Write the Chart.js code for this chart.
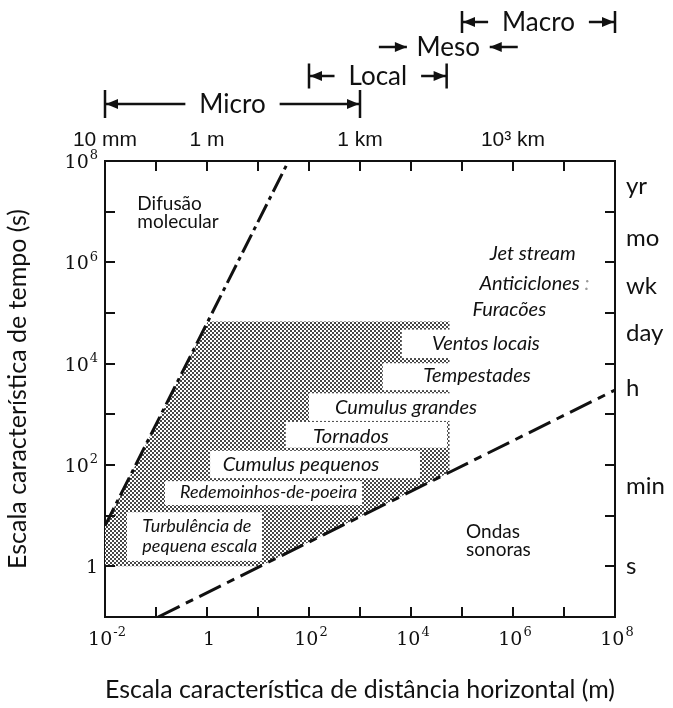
<!DOCTYPE html>
<html>
<head>
<meta charset="utf-8">
<script src="https://cdn.jsdelivr.net/npm/chart.js@4.4.1/dist/chart.umd.min.js"></script>
<style>
  html, body { margin: 0; padding: 0; background: #fff; }
  canvas { display: block; }
</style>
</head>
<body>
<canvas id="c" width="673" height="708"></canvas>
<script>
// ---- Axis ticks ----
const distanceTicks = [1e-2, 1, 1e2, 1e4, 1e6, 1e8];
const distanceUnitTicks = [1e-2, 1, 1e3, 1e6];
const distanceUnitLabels = ['10 mm', '1 m', '1 km', '10³ km'];
const timeTicks = [1, 1e2, 1e4, 1e6, 1e8];
const timeUnitTicks = [3.2e7, 3.0e6, 3.3e5, 3.9e4, 3.2e3, 38, 1];
const timeUnitLabels = ['yr', 'mo', 'wk', 'day', 'h', 'min', 's'];

// ---- Boundary lines (distance in m, time in s) ----
const diffusionLine = [{x: 0.01, y: 6.3}, {x: 39.8, y: 1e8}];
const soundLine = [{x: 0.11, y: 0.1}, {x: 1e8, y: 3020}];

// ---- Region of atmospheric motions ----
const motionRegion = [
  {x: 0.01, y: 1}, {x: 0.01, y: 6.3}, {x: 1.04, y: 6.8e4},
  {x: 5.7e4, y: 6.8e4}, {x: 5.7e4, y: 72}, {x: 11, y: 1}, {x: 0.01, y: 1}
];

// ---- Phenomena inside the region (extent of each cleared box, label anchor) ----
const phenomenaNames = ['Ventos locais', 'Tempestades', 'Cumulus grandes', 'Tornados',
  'Cumulus pequenos', 'Redemoinhos-de-poeira', 'Turbulência de\npequena escala'];
const boxFromX = [6.6e3, 2.8e3, 100, 35, 1.15, 0.15, 0.027];
const boxToX = [1e5, 1e5, 2.45e5, 5.1e4, 1.5e4, 1.1e3, 12];
const boxFromY = [1.29e4, 3.0e3, 741, 219, 55, 16.2, 1.28];
const boxToY = [4.7e4, 1.02e4, 2.6e3, 708, 190, 48, 11.7];
const labelX = [2.57e4, 1.74e4, 324, 120, 2.04, 0.295, 0.054];
const labelY = [2.45e4, 5.75e3, 1.35e3, 372, 100, 29.5, 6.3];

// ---- Large-scale phenomena ----
const largeScaleNames = ['Jet stream', 'Anticiclones', 'Furacões'];
const largeScaleX = [3.5e5, 2.2e5, 1.6e5];
const largeScaleY = [1.5e6, 3.9e5, 1.15e5];

// ---- Regimes outside the region ----
const regimeNames = ['Difusão\nmolecular', 'Ondas\nsonoras'];
const regimeX = [0.043, 1.2e5];
const regimeY = [1.4e7, 4.8];

// ---- Scale classes along the distance axis ----
const scaleClassNames = ['Micro', 'Local', 'Meso', 'Macro'];
const scaleClassFrom = [1e-2, 1e2, 8.3e3, 1e5];
const scaleClassTo = [1e3, 5e4, 3.5e5, 1e8];

// Stipple used for the region of motions
function makeStipple() {
  const pc = document.createElement('canvas');
  pc.width = 4; pc.height = 4;
  const p = pc.getContext('2d');
  p.fillStyle = '#ffffff';
  p.fillRect(0, 0, 4, 4);
  p.fillStyle = '#474747';
  p.fillRect(0, 0, 2, 2);
  p.fillRect(2, 2, 2, 2);
  return p.createPattern(pc, 'repeat');
}
const stipple = makeStipple();

const INK = '#111';
const REGION_INDEX = 2;
// long labels set a little smaller so they fit their boxes
const compactLabels = new Set(['Redemoinhos-de-poeira', 'Turbulência de\npequena escala']);
const POWER_BASE_FONT = '19px "DejaVu Serif", serif';
const POWER_EXP_FONT = '13px "DejaVu Serif", serif';

function setTicks(values) {
  return scale => { scale.ticks = values.map(v => ({value: v})); };
}

// Power-of-ten label: "1" or "10" with a raised exponent
function drawPower(ctx, value, px, py, align) {
  const exp = Math.round(Math.log10(value));
  const base = exp === 0 ? '1' : '10';
  const sup = exp === 0 ? '' : String(exp);
  ctx.font = POWER_BASE_FONT;
  const wb = ctx.measureText(base).width;
  ctx.font = POWER_EXP_FONT;
  const ws = sup ? ctx.measureText(sup).width + 1 : 0;
  const total = wb + ws;
  const start = align === 'right' ? px - total : px - total / 2;
  ctx.textAlign = 'left';
  ctx.textBaseline = 'middle';
  ctx.font = POWER_BASE_FONT;
  ctx.fillText(base, start, py);
  if (sup) {
    ctx.font = POWER_EXP_FONT;
    ctx.fillText(sup, start + wb + 1, py - 7);
  }
}

// White boxes that clear the stipple behind each label
const clearBoxes = {
  id: 'clearBoxes',
  afterDatasetDraw(chart, args) {
    if (args.index !== REGION_INDEX) return;
    const {ctx, chartArea, scales: {x, y}} = chart;
    ctx.save();
    ctx.beginPath();
    ctx.rect(chartArea.left, chartArea.top, chartArea.right - chartArea.left, chartArea.bottom - chartArea.top);
    ctx.clip();
    ctx.fillStyle = '#ffffff';
    for (let i = 0; i < phenomenaNames.length; i++) {
      const x0 = x.getPixelForValue(boxFromX[i]);
      const x1 = x.getPixelForValue(boxToX[i]);
      const y0 = y.getPixelForValue(boxToY[i]);
      const y1 = y.getPixelForValue(boxFromY[i]);
      ctx.fillRect(x0, y0, x1 - x0, y1 - y0);
    }
    ctx.restore();
  }
};

function arrowHead(ctx, tipX, y, dir) {
  const len = 12, half = 5;
  ctx.beginPath();
  ctx.moveTo(tipX, y);
  ctx.lineTo(tipX - dir * len, y - half);
  ctx.lineTo(tipX - dir * len, y + half);
  ctx.closePath();
  ctx.fill();
}

function drawMultiline(ctx, text, px, py, lineH) {
  text.split('\n').forEach((t, k) => ctx.fillText(t, px, py + k * lineH));
}

// Inner tick marks, power-of-ten labels, scale classes and text annotations
const decorations = {
  id: 'decorations',
  afterDraw(chart) {
    const {ctx, chartArea: a, scales: {x, y}} = chart;
    ctx.save();
    ctx.strokeStyle = INK;
    ctx.fillStyle = INK;
    ctx.lineWidth = 2;

    // inward decade ticks on all four sides
    const tl = 10;
    ctx.beginPath();
    for (let k = -1; k <= 7; k++) {
      const px = Math.round(x.getPixelForValue(Math.pow(10, k)));
      ctx.moveTo(px, a.bottom); ctx.lineTo(px, a.bottom - tl);
      ctx.moveTo(px, a.top); ctx.lineTo(px, a.top + tl);
    }
    for (let k = 0; k <= 7; k++) {
      const py = Math.round(y.getPixelForValue(Math.pow(10, k)));
      ctx.moveTo(a.left, py); ctx.lineTo(a.left + tl, py);
      ctx.moveTo(a.right, py); ctx.lineTo(a.right - tl, py);
    }
    ctx.stroke();

    // power-of-ten tick labels of the distance and time axes
    x.ticks.forEach(t => drawPower(ctx, t.value, x.getPixelForValue(t.value) + 2, a.bottom + 23, 'center'));
    y.ticks.forEach(t => drawPower(ctx, t.value, a.left - 7, y.getPixelForValue(t.value) + 2, 'right'));

    // scale classes above the chart
    const rowY = [104, 76, 47, 22];
    const barH = [28, 25, 0, 22];
    ctx.font = '26px Lato';
    ctx.textAlign = 'center';
    ctx.textBaseline = 'middle';
    ctx.lineWidth = 2.5;
    for (let i = 0; i < scaleClassNames.length; i++) {
      const x0 = x.getPixelForValue(scaleClassFrom[i]);
      const x1 = x.getPixelForValue(scaleClassTo[i]);
      const cy = rowY[i];
      const cx = (x0 + x1) / 2;
      const name = scaleClassNames[i];
      const tw = ctx.measureText(name).width;
      ctx.fillText(name, cx, cy + 1);
      if (barH[i] > 0) {
        const gap = 14;
        const reach = name === 'Micro' ? 1000 : 28;
        ctx.beginPath();
        ctx.moveTo(x0, cy - barH[i] / 2); ctx.lineTo(x0, cy + barH[i] / 2);
        ctx.moveTo(x1, cy - barH[i] / 2); ctx.lineTo(x1, cy + barH[i] / 2);
        ctx.moveTo(x0, cy); ctx.lineTo(Math.min(cx - tw / 2 - gap, x0 + reach), cy);
        ctx.moveTo(Math.max(cx + tw / 2 + gap, x1 - reach), cy); ctx.lineTo(x1, cy);
        ctx.stroke();
        arrowHead(ctx, x0 + 1, cy, -1);
        arrowHead(ctx, x1 - 1, cy, 1);
      } else {
        const len = 28;
        ctx.beginPath();
        ctx.moveTo(x0 - len, cy); ctx.lineTo(x0, cy);
        ctx.moveTo(x1 + len, cy); ctx.lineTo(x1, cy);
        ctx.stroke();
        arrowHead(ctx, x0, cy, 1);
        arrowHead(ctx, x1, cy, -1);
      }
    }

    // phenomena labels
    ctx.textAlign = 'left';
    ctx.textBaseline = 'middle';
    for (let i = 0; i < phenomenaNames.length; i++) {
      ctx.font = compactLabels.has(phenomenaNames[i]) ? 'italic 18px Lato' : 'italic 20px Lato';
      drawMultiline(ctx, phenomenaNames[i], x.getPixelForValue(labelX[i]), y.getPixelForValue(labelY[i]), 20);
    }
    ctx.font = 'italic 20px Lato';
    for (let i = 0; i < largeScaleNames.length; i++) {
      const px = x.getPixelForValue(largeScaleX[i]);
      const py = y.getPixelForValue(largeScaleY[i]);
      ctx.fillText(largeScaleNames[i], px, py);
      if (largeScaleNames[i] === 'Anticiclones') {
        ctx.fillStyle = '#9a9a9a';
        ctx.fillText(' :', px + ctx.measureText(largeScaleNames[i]).width, py);
        ctx.fillStyle = INK;
      }
    }
    ctx.font = '19px Lato';
    for (let i = 0; i < regimeNames.length; i++) {
      drawMultiline(ctx, regimeNames[i], x.getPixelForValue(regimeX[i]), y.getPixelForValue(regimeY[i]), 18);
    }
    ctx.restore();
  }
};

const sansTick = {family: '"Liberation Sans", sans-serif', size: 21};
const noGrid = {display: false, drawTicks: false};
const frame = {display: true, color: INK, width: 2};

new Chart(document.getElementById('c'), {
  type: 'scatter',
  data: {
    datasets: [
      {label: 'Difusão molecular', data: diffusionLine, showLine: true, borderColor: INK,
       borderWidth: 3, borderDash: [20, 5, 4, 5], pointRadius: 0, fill: false},
      {label: 'Ondas sonoras', data: soundLine, showLine: true, borderColor: INK,
       borderWidth: 3, borderDash: [24, 7, 8, 7], pointRadius: 0, fill: false},
      {label: 'Movimentos atmosféricos', data: motionRegion, showLine: true,
       borderColor: 'rgba(0,0,0,0)', borderWidth: 0, backgroundColor: stipple,
       fill: 'shape', pointRadius: 0}
    ]
  },
  options: {
    responsive: false,
    devicePixelRatio: 1,
    animation: false,
    layout: {padding: {top: 120, left: 0, right: 0, bottom: 0}},
    plugins: {legend: {display: false}, tooltip: {enabled: false}},
    scales: {
      x: {
        type: 'logarithmic', position: 'bottom', min: 1e-2, max: 1e8, z: 1,
        afterBuildTicks: setTicks(distanceTicks),
        afterFit: s => { s.height = 91; },
        grid: noGrid, border: frame,
        ticks: {display: false, autoSkip: false},
        title: {display: true, text: 'Escala característica de distância horizontal (m)',
                color: INK, font: {family: 'Lato', size: 25}, padding: {top: 0, bottom: 3}}
      },
      x2: {
        type: 'logarithmic', position: 'top', axis: 'x', min: 1e-2, max: 1e8, z: 1,
        afterBuildTicks: setTicks(distanceUnitTicks),
        afterFit: s => { s.height = 41; },
        grid: noGrid, border: frame,
        ticks: {autoSkip: false, maxRotation: 0, minRotation: 0, padding: 8, color: INK,
                font: sansTick, callback: (v, i) => distanceUnitLabels[i]}
      },
      y: {
        type: 'logarithmic', position: 'left', min: 0.1, max: 1e8, z: 1,
        afterBuildTicks: setTicks(timeTicks),
        afterFit: s => { s.width = 105; },
        grid: noGrid, border: frame,
        ticks: {display: false, autoSkip: false},
        title: {display: true, text: 'Escala característica de tempo (s)', color: INK,
                font: {family: 'Lato', size: 25}, padding: {top: 3, bottom: 0}}
      },
      y2: {
        type: 'logarithmic', position: 'right', axis: 'y', min: 0.1, max: 1e8, z: 1,
        afterBuildTicks: setTicks(timeUnitTicks),
        afterFit: s => { s.width = 58; },
        grid: noGrid, border: frame,
        ticks: {autoSkip: false, padding: 11, color: INK, font: {family: 'Lato', size: 24},
                callback: (v, i) => timeUnitLabels[i]}
      }
    }
  },
  plugins: [clearBoxes, decorations]
});
</script>
</body>
</html>
